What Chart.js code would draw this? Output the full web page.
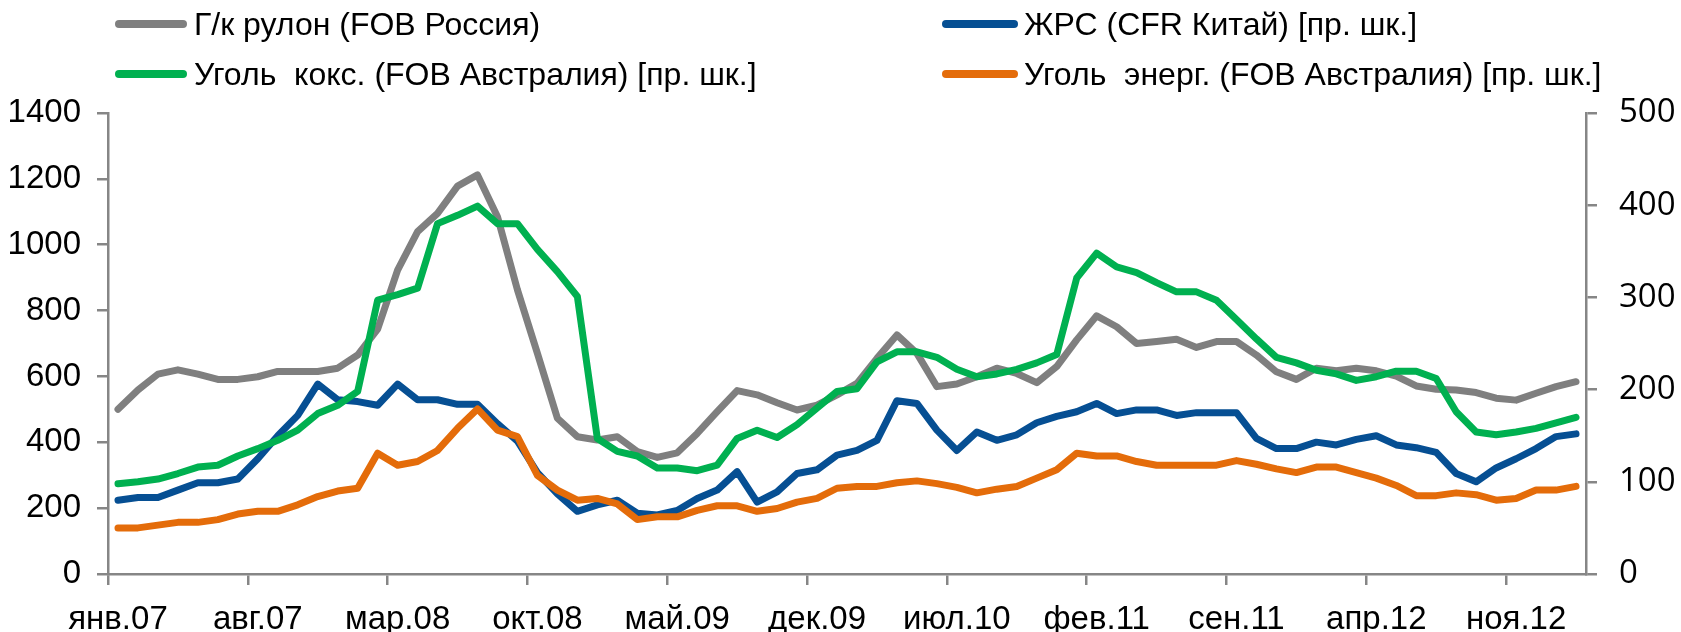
<!DOCTYPE html>
<html lang="ru">
<head>
<meta charset="utf-8">
<script src="https://cdn.jsdelivr.net/npm/chart.js@4/dist/chart.umd.min.js"></script>
<style>
  html, body { margin: 0; padding: 0; background: #fff; }
  #wrap { position: relative; width: 1681px; height: 632px; overflow: hidden; }
  #chart-box { position: absolute; left: 0; top: 0; width: 1681px; height: 632px; }
  .leg { position: absolute; font-family: "Liberation Sans", Arial, sans-serif; font-size: 32px; line-height: 36px; color: #000; white-space: nowrap; }
</style>
</head>
<body>
<div id="wrap">
  <div id="chart-box"><canvas id="priceChart"></canvas></div>
  <div id="legend"></div>
</div>
<script>
// months of the x axis, Jan 2007 - Feb 2013
const monthNames = ['янв', 'фев', 'мар', 'апр', 'май', 'июн', 'июл', 'авг', 'сен', 'окт', 'ноя', 'дек'];
const labelStep = 7;

// Г/к рулон (FOB Россия), left axis
const hrcRussia = [500, 559, 607, 620, 607, 591, 591, 599, 615, 615,
    615, 625, 665, 744, 923, 1040, 1095, 1178, 1212, 1085,
    863, 670, 473, 417, 407, 417, 372, 354, 368, 427,
    493, 557, 544, 520, 498, 513, 544, 579, 655, 726,
    670, 569, 577, 599, 625, 609, 581, 630, 711, 784,
    751, 700, 706, 713, 688, 706, 706, 665, 614, 591,
    625, 617, 625, 617, 601, 571, 561, 559, 551, 534,
    528, 549, 569, 584];

// ЖРС (CFR Китай), right axis
const ironOreChina = [80, 83, 83, 91, 99, 99, 103, 125, 150, 172,
    206, 189, 187, 183, 206, 189, 189, 184, 184, 163,
    144, 110, 87, 68, 75, 80, 66, 64, 69, 82,
    91, 111, 78, 89, 109, 113, 129, 134, 145, 188,
    185, 156, 134, 154, 145, 151, 164, 171, 176, 185,
    174, 178, 178, 172, 175, 175, 175, 147, 136, 136,
    143, 140, 146, 150, 140, 137, 132, 109, 100, 115,
    125, 136, 149, 152];

// Уголь кокс. (FOB Австралия), right axis
const cokingCoal = [98, 100, 103, 109, 116, 118, 128, 136, 145, 156,
    174, 183, 198, 297, 303, 310, 380, 389, 399, 380,
    380, 352, 328, 301, 147, 133, 128, 115, 115, 112,
    118, 147, 156, 148, 162, 180, 198, 201, 230, 241,
    241, 235, 222, 214, 217, 222, 229, 238, 321, 348,
    333, 327, 316, 306, 306, 297, 276, 255, 235, 229,
    221, 217, 210, 214, 220, 220, 212, 176, 154, 151,
    154, 158, 164, 170];

// Уголь энерг. (FOB Австралия), right axis
const thermalCoal = [50, 50, 53, 56, 56, 59, 65, 68, 68, 75,
    84, 90, 93, 131, 118, 122, 134, 158, 179, 156,
    149, 107, 91, 80, 82, 76, 59, 62, 62, 69,
    74, 74, 68, 71, 78, 82, 93, 95, 95, 99,
    101, 98, 94, 88, 92, 95, 104, 113, 131, 128,
    128, 122, 118, 118, 118, 118, 123, 119, 114, 110,
    116, 116, 110, 104, 96, 85, 85, 88, 86, 80,
    82, 91, 91, 95];

const labels = [];
for (let i = 0; i < hrcRussia.length; i++) {
    const m = i % 12;
    const y = 7 + Math.floor(i / 12);
    labels.push(monthNames[m] + '.' + String(y).padStart(2, '0'));
}

const AXIS = '#868686';
const series = [
    { label: 'Г/к рулон (FOB Россия)', data: hrcRussia, color: '#7f7f7f', axis: 'y', order: 4 },
    { label: 'ЖРС (CFR Китай) [пр. шк.]', data: ironOreChina, color: '#064f93', axis: 'y1', order: 3 },
    { label: 'Уголь  кокс. (FOB Австралия) [пр. шк.]', data: cokingCoal, color: '#00b050', axis: 'y1', order: 2 },
    { label: 'Уголь  энерг. (FOB Австралия) [пр. шк.]', data: thermalCoal, color: '#e46c0a', axis: 'y1', order: 1 }
];

// legend, two columns x two rows like the original
const legendPos = [
    { line: [115, 187], text: 194, y: 24 },
    { line: [942, 1018], text: 1024, y: 24 },
    { line: [115, 187], text: 194, y: 74 },
    { line: [942, 1018], text: 1024, y: 74 }
];
const legendEl = document.getElementById('legend');
series.forEach((s, k) => {
    const p = legendPos[k];
    const sw = document.createElement('i');
    sw.style.position = 'absolute';
    sw.style.left = p.line[0] + 'px';
    sw.style.width = (p.line[1] - p.line[0]) + 'px';
    sw.style.top = (p.y - 4) + 'px';
    sw.style.height = '8px';
    sw.style.borderRadius = '4px';
    sw.style.background = s.color;
    legendEl.appendChild(sw);
    const t = document.createElement('div');
    t.className = 'leg';
    t.style.left = p.text + 'px';
    t.style.top = (p.y - 18) + 'px';
    t.textContent = s.label.replace(/  /g, '\u00a0 ');
    legendEl.appendChild(t);
});

const tickFont = { family: '"Liberation Sans", Arial, sans-serif', size: 33 };

new Chart(document.getElementById('priceChart'), {
    type: 'line',
    data: {
        labels: labels,
        datasets: series.map(s => ({
            label: s.label,
            data: s.data,
            yAxisID: s.axis,
            order: s.order,
            borderColor: s.color,
            backgroundColor: s.color,
            borderWidth: 7,
            pointRadius: 0,
            tension: 0,
            borderJoinStyle: 'round',
            borderCapStyle: 'round',
            fill: false
        }))
    },
    options: {
        responsive: true,
        maintainAspectRatio: false,
        animation: false,
        layout: { padding: { top: 113, left: 0, right: 0, bottom: 0 } },
        plugins: {
            legend: { display: false },
            tooltip: { enabled: false }
        },
        scales: {
            x: {
                offset: true,
                grid: {
                    offset: true,
                    drawOnChartArea: false,
                    tickLength: 11,
                    lineWidth: 2.5,
                    color: c => (c.index % labelStep === 0 ? AXIS : 'rgba(0,0,0,0)')
                },
                border: { color: AXIS, width: 2.5 },
                ticks: {
                    autoSkip: false,
                    maxRotation: 0,
                    padding: 15,
                    color: '#000',
                    font: tickFont,
                    callback: (v, i) => (i % labelStep === 0 ? labels[i] : '')
                },
                afterFit: s => { s.height = 58; }
            },
            y: {
                position: 'left',
                min: 0,
                max: 1400,
                grid: { drawOnChartArea: false, tickLength: 11, lineWidth: 2.5, color: AXIS },
                border: { color: AXIS, width: 2.5 },
                ticks: { stepSize: 200, padding: 16, color: '#000', font: tickFont, callback: v => String(v) },
                afterFit: s => { s.width = 108; }
            },
            y1: {
                position: 'right',
                min: 0,
                max: 500,
                grid: { drawOnChartArea: false, tickLength: 11, lineWidth: 2.5, color: AXIS },
                border: { color: AXIS, width: 2.5 },
                ticks: { stepSize: 100, padding: 22, color: '#000', font: { family: '"Open Sans", sans-serif', size: 33 }, callback: v => String(v) },
                afterFit: s => { s.width = 95; }
            }
        }
    }
});
</script>
</body>
</html>
